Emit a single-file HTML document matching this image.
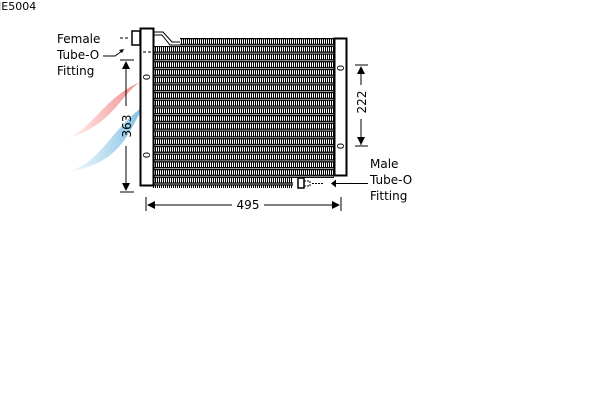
<!DOCTYPE html>
<html><head><style>
html,body{margin:0;padding:0;background:#fff;width:600px;height:400px;overflow:hidden}
svg{display:block}
text{font-family:"DejaVu Sans","Liberation Sans",sans-serif;fill:#000}
</style></head><body>
<svg width="600" height="400" viewBox="0 0 600 400">
<defs>
<pattern id="fin" x="153" y="38" width="2" height="7.7" patternUnits="userSpaceOnUse">
<rect x="0" y="0" width="2" height="7.7" fill="#fff"/>
<rect x="0" y="1" width="1" height="5" fill="#000"/>
<rect x="0" y="0" width="2" height="1.3" fill="#000"/>
<rect x="0" y="5.8" width="2" height="1.3" fill="#000"/>
</pattern>
<linearGradient id="rd" x1="0" y1="0" x2="1" y2="0"><stop offset="0" stop-color="#f08080" stop-opacity="0"/><stop offset="1" stop-color="#f08080" stop-opacity=".9"/></linearGradient>
<linearGradient id="bl" x1="0" y1="0" x2="1" y2="0"><stop offset="0" stop-color="#70b8e0" stop-opacity="0"/><stop offset="1" stop-color="#70b8e0" stop-opacity=".9"/></linearGradient>
</defs>
<text x="-2" y="10" font-size="11">JE5004</text>
<path d="M60 140 C90 135,100 100,140 82 C120 95,110 130,60 140Z" fill="url(#rd)"/>
<path d="M65 172 C100 165,110 130,145 105 C130 125,125 165,65 172Z" fill="url(#bl)"/>
<rect x="180" y="38" width="154" height="8" fill="url(#fin)"/>
<rect x="153" y="54" width="181" height="124" fill="url(#fin)"/>
<rect x="153" y="46" width="181" height="8" fill="url(#fin)"/>
<rect x="153" y="178" width="140" height="10" fill="url(#fin)"/>
<path d="M153 32 L163 32 L172 42 L180 42 M153 35 L162 35 L170 45 L180 45" stroke="#000" fill="none"/>
<rect x="140.5" y="28.5" width="13" height="157" fill="#fff" stroke="#000" stroke-width="2"/>
<rect x="132" y="31" width="8" height="14" fill="#fff" stroke="#000" stroke-width="1.5"/>
<path d="M120 38h10M143 52h8" stroke="#000" stroke-dasharray="3,2"/>
<text x="147" y="80" font-size="10" text-anchor="middle" transform="rotate(-90 147 77)">0</text>
<text x="147" y="158" font-size="10" text-anchor="middle" transform="rotate(-90 147 155)">0</text>
<rect x="334.5" y="38.5" width="12" height="137" fill="#fff" stroke="#000" stroke-width="2"/>
<text x="341" y="71" font-size="10" text-anchor="middle" transform="rotate(-90 341 68)">0</text>
<text x="341" y="149" font-size="10" text-anchor="middle" transform="rotate(-90 341 146)">0</text>
<rect x="298" y="178" width="6" height="10" fill="#fff" stroke="#000" stroke-width="1.5"/>
<path d="M304 181h6v5h-6M312 183.5h12" stroke="#000" fill="none" stroke-dasharray="2,1"/>
<path d="M333 183.5h35" stroke="#000"/>
<path d="M331 183.5l5-4v8z" fill="#000"/>
<text x="57" y="43" font-size="12">Female</text>
<text x="57" y="59" font-size="12">Tube-O</text>
<text x="57" y="75" font-size="12">Fitting</text>
<path d="M103 56h12l7-5" stroke="#000" fill="none"/>
<path d="M124 49l-5 1 3 3z" fill="#000"/>
<text x="370" y="168" font-size="12">Male</text>
<text x="370" y="184" font-size="12">Tube-O</text>
<text x="370" y="200" font-size="12">Fitting</text>
<path d="M120 60h14M120 192h14M126 62v44M126 146v44" stroke="#000"/>
<path d="M126 61l-4 8h8zM126 191l-4-8h8z" fill="#000"/>
<text x="126" y="131" font-size="12" text-anchor="middle" transform="rotate(-90 126 126)">363</text>
<path d="M355 65h13M355 146h13M361 67v18M361 119v26" stroke="#000"/>
<path d="M361 66l-4 8h8zM361 145l-4-8h8z" fill="#000"/>
<text x="361" y="107" font-size="12" text-anchor="middle" transform="rotate(-90 361 102)">222</text>
<path d="M146 197v14M341 197v14M148 205h84M264 205h75" stroke="#000"/>
<path d="M147 205l8-4v8zM340 205l-8-4v8z" fill="#000"/>
<text x="248" y="209" font-size="12" text-anchor="middle">495</text>
</svg>
</body></html>
